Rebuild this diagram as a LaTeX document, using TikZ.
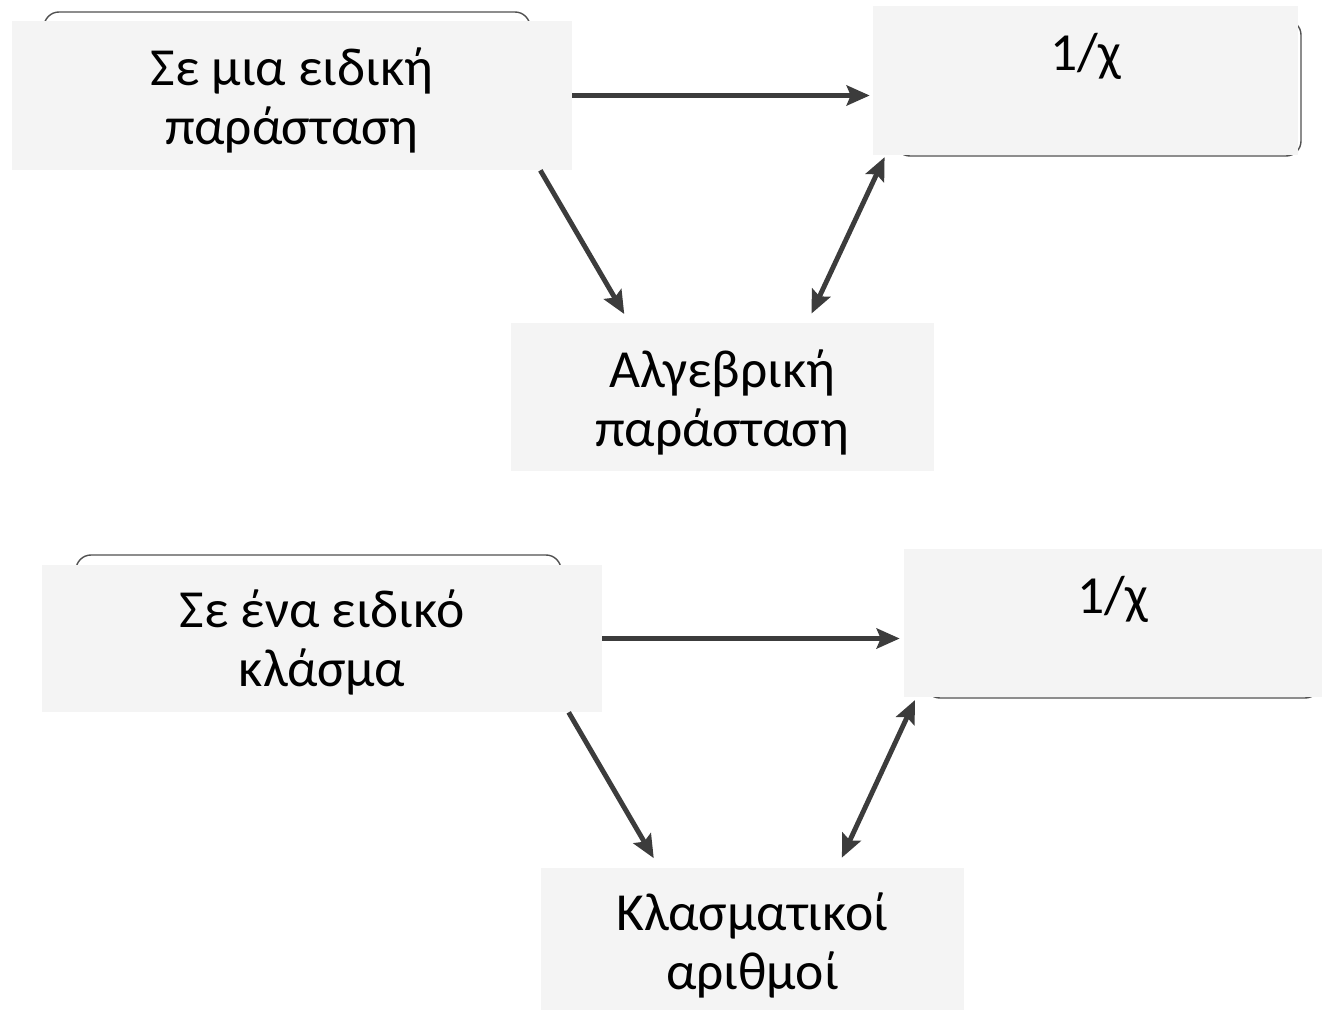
\documentclass[tikz,border=0pt]{standalone}
\usepackage{fontspec}
\setmainfont{Carlito}
\usetikzlibrary{%
	arrows.meta,%
	calc%
}
\definecolor{boxgray}{HTML}{F4F4F4}
\definecolor{arrowgray}{HTML}{3C3C3C}
\definecolor{framegray}{HTML}{505050}
\tikzset{
	card/.style={fill=boxgray,inner sep=0pt,align=center,font=\fontsize{30.5}{34}\selectfont},
	frame/.style={draw=framegray,line width=0.8pt,rounded corners=0.3cm},
	link/.style={draw=arrowgray,line width=2.8pt,-{Stealth[length=0.46cm,width=0.4cm,inset=0.08cm]}},
	twoway/.style={draw=arrowgray,line width=2.8pt,{Stealth[length=0.46cm,width=0.4cm,inset=0.08cm]}-{Stealth[length=0.46cm,width=0.4cm,inset=0.08cm]}}
}

\begin{document}
\begin{tikzpicture}[x=0.02cm,y=-0.02cm]
			\useasboundingbox (0,0) rectangle (1322,1010);
			% upper diagram
			\draw[frame] (44,12) rectangle (530,120);
			\draw[frame] (895,20) rectangle (1301,156);
			\node[card,minimum width=11.2cm,text height=2.48cm,text depth=0.50cm] (ep) at (292,95.5) {Σε μια ειδική\\παράσταση};
			\node[card,minimum width=8.5cm,text height=1.28cm,text depth=1.70cm] (ia) at (1085.5,80.5) {1/χ};
			\node[card,minimum width=8.46cm,text height=2.48cm,text depth=0.48cm] (ap) at (722.5,397) {Αλγεβρική\\παράσταση};
			\draw[link,shorten >=0.06cm] (ep.east) -- (ep.east -| ia.west);
			\draw[link,shorten >=0.2cm] ($(ep.south west)!0.943!(ep.south east)$) -- ($(ap.north west)!0.28!(ap.north east)$);
			\draw[twoway,shorten <=0.2cm,shorten >=0.04cm] ($(ap.north west)!0.70!(ap.north east)$) -- ($(ia.south west)!0.03!(ia.south east)$);
			% lower diagram
			\draw[frame] (76,555) rectangle (561,650);
			\draw[frame] (925,565) rectangle (1320,698);
			\node[card,minimum width=11.2cm,text height=2.44cm,text depth=0.50cm] (ek) at (322,638.5) {Σε ένα ειδικό\\κλάσμα};
			\node[card,minimum width=8.36cm,text height=1.28cm,text depth=1.68cm] (ik) at (1113,623) {1/χ};
			\node[card,minimum width=8.46cm,text height=2.44cm,text depth=0.52cm] (km) at (752.5,942) {Κλασματικοί\\αριθμοί};
			\draw[link,shorten >=0.08cm] (ek.east) -- (ek.east -| ik.west);
			\draw[link,shorten >=0.22cm] ($(ek.south west)!0.94!(ek.south east)$) -- ($(km.north west)!0.28!(km.north east)$);
			\draw[twoway,shorten <=0.22cm,shorten >=0.06cm] ($(km.north west)!0.70!(km.north east)$) -- ($(ik.south west)!0.03!(ik.south east)$);
\end{tikzpicture}
\end{document}
